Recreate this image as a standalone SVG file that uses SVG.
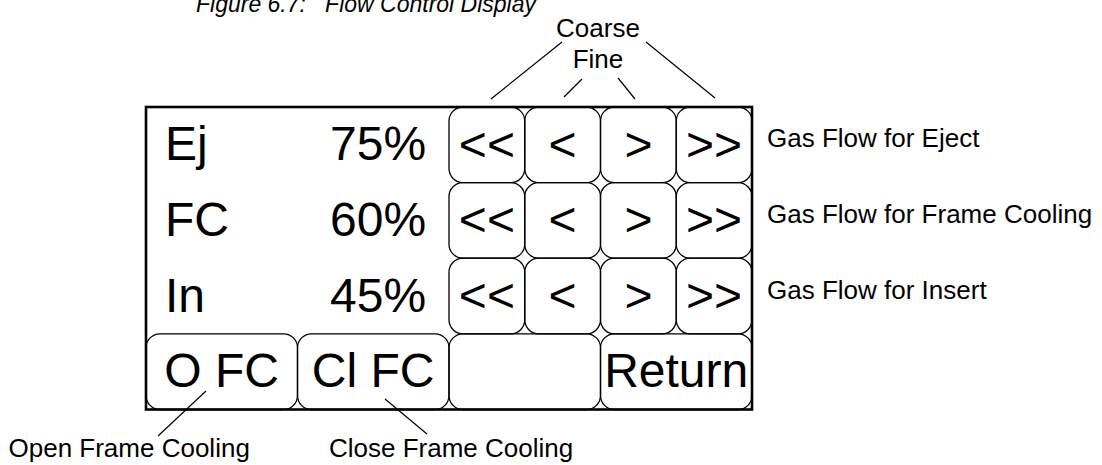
<svg xmlns="http://www.w3.org/2000/svg" width="1102" height="465" viewBox="0 0 1102 465">
<style>
.btn{fill:none;stroke:#000;stroke-width:1.3}
.big{font-family:"Liberation Sans",Arial,sans-serif;font-size:48px;fill:#000}
.bc{font-family:"Liberation Sans",Arial,sans-serif;font-size:48px;fill:#000;text-anchor:middle}
.lab{font-family:"Liberation Sans",Arial,sans-serif;font-size:26px;fill:#000}
.ttl{font-family:"Liberation Sans",Arial,sans-serif;font-size:23px;font-style:italic;fill:#000}
.ln{stroke:#000;stroke-width:1.2;fill:none}
</style>
<rect width="1102" height="465" fill="#fff"/>
<text class="ttl" x="196" y="12" xml:space="preserve">Figure 6.7:   Flow Control Display</text>

<g id="row-ej">
<text class="big" x="165" y="160">Ej</text>
<text class="big" x="330" y="160">75%</text>
</g>
<g id="row-fc">
<text class="big" x="165" y="236">FC</text>
<text class="big" x="330" y="236">60%</text>
</g>
<g id="row-in">
<text class="big" x="165" y="312">In</text>
<text class="big" x="330" y="312">45%</text>
</g>

<g id="btn-ej-cl"><rect class="btn" x="449" y="107" width="75.75" height="75.6" rx="14"/><text class="bc" x="486.9" y="160.5">&lt;&lt;</text></g>
<g id="btn-ej-fl"><rect class="btn" x="524.75" y="107" width="75.75" height="75.6" rx="14"/><text class="bc" x="562.6" y="160.5">&lt;</text></g>
<g id="btn-ej-fr"><rect class="btn" x="600.5" y="107" width="75.75" height="75.6" rx="14"/><text class="bc" x="638.4" y="160.5">&gt;</text></g>
<g id="btn-ej-cr"><rect class="btn" x="676.25" y="107" width="75.75" height="75.6" rx="14"/><text class="bc" x="714.1" y="160.5">&gt;&gt;</text></g>

<g id="btn-fc-cl"><rect class="btn" x="449" y="182.6" width="75.75" height="75.6" rx="14"/><text class="bc" x="486.9" y="236">&lt;&lt;</text></g>
<g id="btn-fc-fl"><rect class="btn" x="524.75" y="182.6" width="75.75" height="75.6" rx="14"/><text class="bc" x="562.6" y="236">&lt;</text></g>
<g id="btn-fc-fr"><rect class="btn" x="600.5" y="182.6" width="75.75" height="75.6" rx="14"/><text class="bc" x="638.4" y="236">&gt;</text></g>
<g id="btn-fc-cr"><rect class="btn" x="676.25" y="182.6" width="75.75" height="75.6" rx="14"/><text class="bc" x="714.1" y="236">&gt;&gt;</text></g>

<g id="btn-in-cl"><rect class="btn" x="449" y="258.2" width="75.75" height="75.6" rx="14"/><text class="bc" x="486.9" y="311.7">&lt;&lt;</text></g>
<g id="btn-in-fl"><rect class="btn" x="524.75" y="258.2" width="75.75" height="75.6" rx="14"/><text class="bc" x="562.6" y="311.7">&lt;</text></g>
<g id="btn-in-fr"><rect class="btn" x="600.5" y="258.2" width="75.75" height="75.6" rx="14"/><text class="bc" x="638.4" y="311.7">&gt;</text></g>
<g id="btn-in-cr"><rect class="btn" x="676.25" y="258.2" width="75.75" height="75.6" rx="14"/><text class="bc" x="714.1" y="311.7">&gt;&gt;</text></g>

<g id="btn-ofc"><rect class="btn" x="146" y="333.8" width="151.5" height="75.7" rx="14"/><text class="bc" x="221.7" y="386.5">O FC</text></g>
<g id="btn-clfc"><rect class="btn" x="297.5" y="333.8" width="151.5" height="75.7" rx="14"/><text class="bc" x="373.2" y="386.5">Cl FC</text></g>
<g id="btn-blank"><rect class="btn" x="449" y="333.8" width="151.5" height="75.7" rx="14"/></g>
<g id="btn-return"><rect class="btn" x="600.5" y="333.8" width="151.5" height="75.7" rx="14"/><text class="bc" x="676.2" y="386.5">Return</text></g>

<g id="frame"><rect x="146" y="107" width="606" height="302.5" fill="none" stroke="#000" stroke-width="2.6"/></g>

<g id="label-coarse"><text class="lab" x="598" y="37" text-anchor="middle">Coarse</text></g>
<g id="label-fine"><text class="lab" x="598" y="68" text-anchor="middle">Fine</text></g>
<g id="label-eject"><text class="lab" x="767" y="147">Gas Flow for Eject</text></g>
<g id="label-fcool"><text class="lab" x="767" y="223">Gas Flow for Frame Cooling</text></g>
<g id="label-insert"><text class="lab" x="767" y="299">Gas Flow for Insert</text></g>
<g id="label-open"><text class="lab" x="8.5" y="456.5">Open Frame Cooling</text></g>
<g id="label-close"><text class="lab" x="329" y="456.5">Close Frame Cooling</text></g>

<g id="connectors">
<line class="ln" x1="562" y1="42" x2="491" y2="99"/>
<line class="ln" x1="646" y1="42" x2="715" y2="98"/>
<line class="ln" x1="582" y1="79" x2="564" y2="97"/>
<line class="ln" x1="618" y1="78" x2="635" y2="99"/>
<line class="ln" x1="206" y1="391" x2="158" y2="436"/>
<line class="ln" x1="385" y1="399" x2="427" y2="434"/>
</g>
</svg>
